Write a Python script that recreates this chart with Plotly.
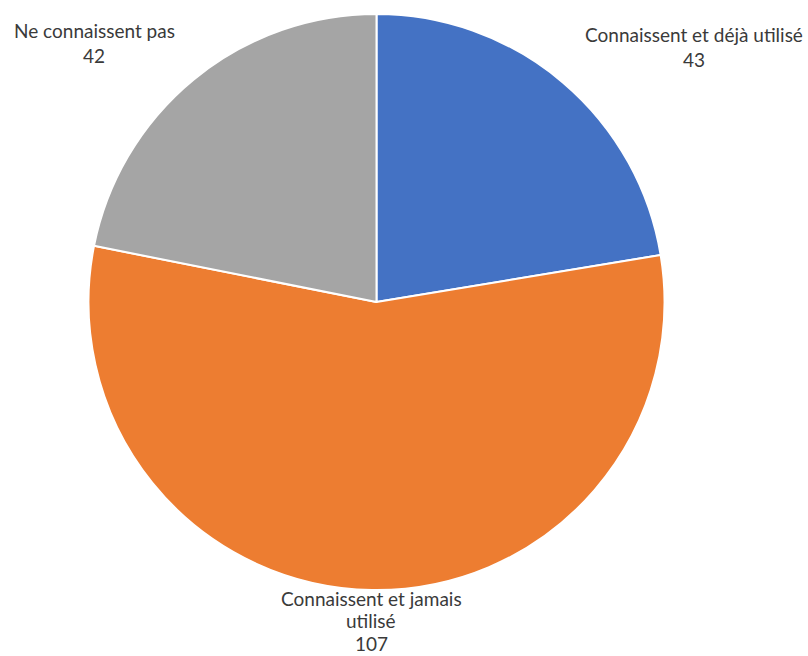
import plotly.graph_objects as go

# Survey answers and counts
categories = ["Connaissent et déjà utilisé", "Connaissent et jamais utilisé", "Ne connaissent pas"]
counts = [43, 107, 42]
colors = ["#4472C4", "#ED7D31", "#A5A5A5"]

# Label text for each slice (line breaks as shown around the pie)
label_lines = [
    ["Connaissent et déjà utilisé"],
    ["Connaissent et jamais", "utilisé"],
    ["Ne connaissent pas"],
]

W, H = 808, 656
cx, cy, r = 376.5, 302, 288

# Label placement: centre x, first-line centre y (pixels) and line pitch
label_xy = [(694, 35, 24), (371, 598, 22.5), (94, 31, 24)]

fig = go.Figure(go.Pie(
    labels=categories,
    values=counts,
    marker=dict(colors=colors, line=dict(color="white", width=2)),
    sort=False,
    direction="clockwise",
    rotation=0,
    textinfo="none",
    hoverinfo="label+value",
    showlegend=False,
    domain=dict(x=[(cx - r) / W, (cx + r) / W], y=[1 - (cy + r) / H, 1 - (cy - r) / H]),
))

for lines, n, (px, py, pitch) in zip(label_lines, counts, label_xy):
    for i, line in enumerate(lines + [str(n)]):
        fig.add_annotation(
            x=px / W, y=1 - (py + i * pitch) / H,
            xref="paper", yref="paper",
            xanchor="center", yanchor="middle",
            text=line,
            showarrow=False,
            borderpad=0,
            font=dict(family="Lato", size=19, color="#3a3a3a"),
        )

fig.update_layout(
    width=W, height=H,
    margin=dict(l=0, r=0, t=0, b=0),
    paper_bgcolor="white",
    plot_bgcolor="white",
)

fig.write_html("out.html")
